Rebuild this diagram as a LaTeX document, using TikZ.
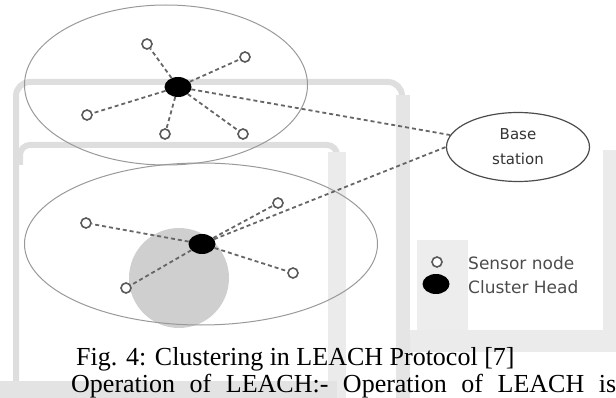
\documentclass[tikz,border=0pt]{standalone}
\usepackage{fontspec}
\setmainfont{Liberation Serif}
\newfontfamily\legendfont{DejaVu Sans}
\usetikzlibrary{shapes.geometric}
\tikzset{
  zone/.style={ellipse, draw=black!40, line width=1pt, inner sep=0pt},
  sensor/.style={circle, draw=black!65, line width=1.6pt, fill=white, minimum size=10pt, inner sep=0pt},
  head/.style={ellipse, fill=black, minimum width=27pt, minimum height=20pt, inner sep=0pt},
  link/.style={black!60, line width=1.8pt, dash pattern=on 4pt off 3pt},
  wmark/.style={black!13, line width=6pt},
  legendtext/.style={font=\legendfont\fontsize{17}{20}\selectfont, text=black!70, anchor=west, inner sep=0pt},
}
\begin{document}
\begin{tikzpicture}[x=1pt,y=-1pt]
      \useasboundingbox (0,0) rectangle (616,398);
      \clip (0,0) rectangle (616,398);
      % faded logo in the background
      \draw[wmark, rounded corners=14pt] (16,392) |- (402,82) -- (402,398);
      \draw[wmark, rounded corners=10pt] (20,165) |- (337,145) -- (337,398);
      \fill[black!10] (396,95) rectangle (410,398);
      \fill[black!8] (328,152) rectangle (346,398);
      \fill[black!7] (417,240) rectangle (468,330);
      \fill[black!8] (603,150) rectangle (616,330);
      \fill[black!8] (410,330) rectangle (616,352);
      \fill[black!11] (0,381) rectangle (337,398);
      \fill[black!19] (179,278) circle (50);
      % clusters
      \draw
        (166,85) node[zone, minimum width=283pt, minimum height=160pt] (z1){}
        (201,244) node[zone, minimum width=353pt, minimum height=162pt] (z2){};
      \draw
        (178,87) node[head] (h1){}
        (147,44) node[sensor] (a1){}
        (245,57) node[sensor] (a2){}
        (87,115) node[sensor] (a3){}
        (165,134) node[sensor] (a4){}
        (243,134) node[sensor] (a5){}
        (202,244) node[head] (h2){}
        (86,223) node[sensor] (b1){}
        (278,203) node[sensor] (b2){}
        (293,273) node[sensor] (b3){}
        (126,288) node[sensor] (b4){};
      \node[ellipse, draw=black!70, line width=1.2pt, minimum width=143pt, minimum height=69pt,
        align=center, font=\legendfont\fontsize{15}{25}\selectfont, text=black!80] (bs) at (518,147) {Base\\station};
      \begin{scope}[link]
        \draw (h1) to (a1);
        \draw (h1) to (a2);
        \draw (h1) to (a3);
        \draw (h1) to (a4);
        \draw (h1) to (a5);
        \draw (h1) to (bs.170);
        \draw (h2) to (b1);
        \draw (h2) to (b2);
        \draw (h2) to (b3);
        \draw (h2) to (b4);
        \draw (h2) to (bs.west);
      \end{scope}
      % legend
      \node[sensor] (ksensor) at (437,262) {};
      \node[head] (khead) at (436,284) {};
      \node[legendtext] (lsensor) at (468,263) {Sensor node};
      \node[legendtext] (lhead) at (468,287) {Cluster Head};
      % caption and text below
      \node[anchor=base west, inner sep=0pt, font=\fontsize{26}{30}\selectfont] (cap) at (76,365)
        {Fig. 4: Clustering in LEACH Protocol [7]};
      \node[anchor=base west, inner sep=0pt, font=\fontsize{26}{30}\selectfont] (body) at (71,392)
        {\makebox[545pt][s]{Operation of LEACH:- Operation of LEACH is}};
\end{tikzpicture}
\end{document}
